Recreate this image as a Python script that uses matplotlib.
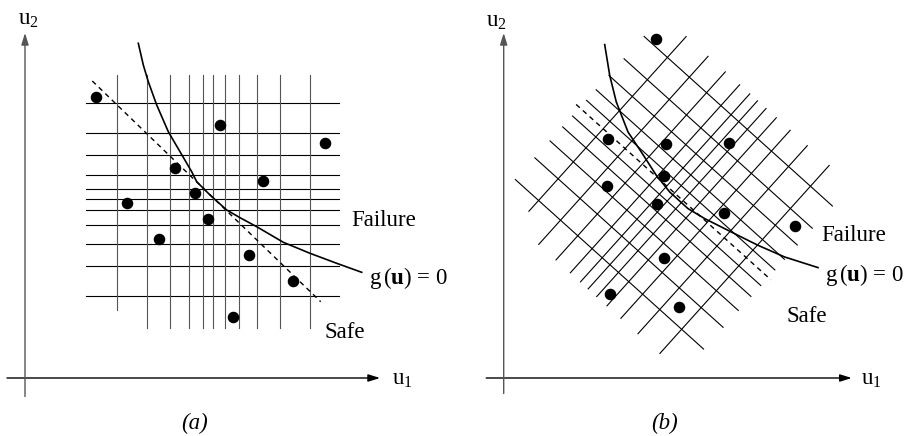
import matplotlib.pyplot as plt
import matplotlib.transforms as mtransforms
import numpy as np

plt.rcParams['font.family'] = ['Liberation Serif', 'DejaVu Serif']
plt.rcParams['mathtext.fontset'] = 'custom'
plt.rcParams['mathtext.rm'] = 'Liberation Serif'
plt.rcParams['mathtext.it'] = 'Liberation Serif:italic'
plt.rcParams['mathtext.bf'] = 'Liberation Serif:bold'

# sampling grid, in its own frame (s along rows, t across rows)
row_t = [96, 66, 43.5, 24.3, 10, 0, -11, -25.7, -44.6, -67.3, -96.5]
col_s = [-96, -66.5, -43.3, -24, -10.4, 0, 11.5, 25.3, 44, 67, 96.5]
row_from, row_to = -127.3, 126
col_from = [-111, -129, -129, -129, -129, -129, -129, -129, -129, -129, -129]
col_to = 124

# sample points in the grid frame
pts_s = [-117.3, 6.7, 111.7, -38.6, 50, -18.6, -86, -5.6, -54.6, 35.7, 79.7, 20]
pts_t = [102, 73.7, 55.7, 30.7, 18.3, 5.7, -4.3, -19.7, -40, -55.7, -82, -118]

# limit state g(u)=0, panel (a)
curve_a_u1 = [113.3, 118.3, 123.3, 131.7, 143.3, 155, 166.7, 171.7, 185, 201.7,
              215, 231.7, 258.3, 285, 311.7, 336.7]
curve_a_u2 = [334.7, 313, 296.3, 273, 246.3, 226.3, 206.3, 196.3, 183, 168,
              160.3, 151.3, 135.7, 124.7, 114.7, 105.7]
# linearised limit state, panel (a)
lin_a_u1 = [67.3, 295.7]
lin_a_u2 = [297, 76.3]

# limit state g(u)=0, panel (b)
curve_b_u1 = [101, 106, 112.6, 124.3, 137.6, 152.6, 166, 184.3, 201, 227.6,
              254.3, 281, 314.3]
curve_b_u2 = [333.4, 302.7, 276, 246, 226, 202.7, 186, 169.4, 159.4, 146,
              132.7, 121, 110.4]
# linearised limit state, panel (b), in the rotated grid frame
lin_b_s = [-132.3, 129.7]
lin_b_t = [0, 0]

FS = 16.5
GRAY = '#555555'


def draw_axes(ax, x0, x1, y0, y1):
    arr = dict(arrowstyle='-|>,head_length=0.7,head_width=0.22', lw=1.0,
               shrinkA=0, shrinkB=0, mutation_scale=10)
    ax.annotate('', xy=(x1, 0), xytext=(x0, 0),
                arrowprops=dict(arr, color='black'))
    ax.annotate('', xy=(0, y1), xytext=(0, y0),
                arrowprops=dict(arr, color=GRAY))


def draw_grid(ax, center, angle, col_color, skip_mid_row):
    tr = mtransforms.Affine2D().rotate_deg(angle).translate(*center) + ax.transData
    for t in row_t:
        if skip_mid_row and t == 0:
            continue
        ax.plot([row_from, row_to], [t, t], color='black', lw=0.8, transform=tr)
    for s, lo in zip(col_s, col_from):
        ax.plot([s, s], [lo, col_to], color=col_color, lw=0.8, transform=tr)
    ax.plot(pts_s, pts_t, 'o', color='black', ms=7.3, transform=tr)
    return tr


fig = plt.figure(figsize=(9.06, 4.36), dpi=100)
ax_a = fig.add_axes([0, 0, 0.5, 1])
ax_b = fig.add_axes([0.5, 0, 0.5, 1])

# ---- panel (a)
ax_a.set_xlim(-25, 428)
ax_a.set_ylim(-58, 378)
ax_a.axis('off')
draw_axes(ax_a, -18, 355, -18.5, 345)
draw_grid(ax_a, (188.3, 179), 0, GRAY, False)
ax_a.plot(curve_a_u1, curve_a_u2, color='black', lw=1.2)
ax_a.plot(lin_a_u1, lin_a_u2, color='black', lw=1.0, dashes=(3.5, 3))
ax_a.text(-7, 353, r'u$_2$', fontsize=FS, va='baseline')
ax_a.text(367, -6.3, r'u$_1$', fontsize=FS, va='baseline')
ax_a.text(326.7, 157, 'Failure', fontsize=FS, va='center')
ax_a.text(344, 100, r'g$\,(\mathbf{u})$ = 0', fontsize=FS, va='center')
ax_a.text(299, 45, 'Safe', fontsize=FS, va='center')
ax_a.text(170, -45, '(a)', fontsize=FS, style='italic', ha='center', va='center')

# ---- panel (b)
ax_b.set_xlim(-50.7, 402.3)
ax_b.set_ylim(-58, 378)
ax_b.axis('off')
draw_axes(ax_b, -17.5, 348, -15.5, 345)
tr_b = draw_grid(ax_b, (170.8, 185), -42, 'black', True)
ax_b.plot(lin_b_s, lin_b_t, color='black', lw=1.0, dashes=(3.5, 3), transform=tr_b)
ax_b.plot(curve_b_u1, curve_b_u2, color='black', lw=1.2)
ax_b.text(-17.4, 351, r'u$_2$', fontsize=FS, va='baseline')
ax_b.text(357.6, -6.6, r'u$_1$', fontsize=FS, va='baseline')
ax_b.text(317.6, 142.7, 'Failure', fontsize=FS, va='center')
ax_b.text(321, 102.7, r'g$\,(\mathbf{u})$ = 0', fontsize=FS, va='center')
ax_b.text(282.6, 61, 'Safe', fontsize=FS, va='center')
ax_b.text(161, -45.3, '(b)', fontsize=FS, style='italic', ha='center', va='center')

fig.savefig('out.png', dpi=100)
